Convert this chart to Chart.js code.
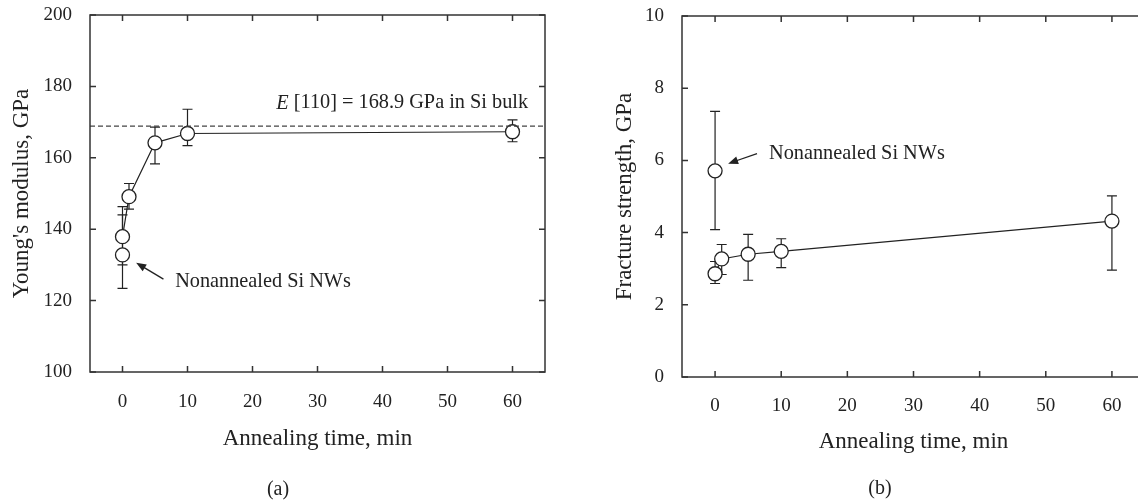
<!DOCTYPE html>
<html>
<head>
<meta charset="utf-8">
<script src="https://cdn.jsdelivr.net/npm/chart.js@4"></script>
<style>
html, body { margin: 0; padding: 0; background: #fff; overflow: hidden; width: 1138px; height: 503px; position: relative; }
canvas { position: absolute; top: 0; }
.lab { position: absolute; font: 20px "Liberation Serif", serif; color: #222; transform: translate(-50%, -50%); }
</style>
</head>
<body>
<canvas id="chartA" width="570" height="503" style="left:0"></canvas>
<canvas id="chartB" width="560" height="503" style="left:600px"></canvas>
<div class="lab" style="left:278px;top:488px">(a)</div>
<div class="lab" style="left:880px;top:487px">(b)</div>
<script>
// shared x axis (annealing time, min)
const timeTicks = [0, 10, 20, 30, 40, 50, 60];
const annealTime = [0, 1, 5, 10, 60];
const nonTime = [0];

// (a) Young's modulus, GPa
const youngTicks = [100, 120, 140, 160, 180, 200];
const youngMean = [137.9, 149.1, 164.2, 166.8, 167.3];
const youngLow = [130.0, 145.6, 158.3, 163.4, 164.5];
const youngHigh = [146.3, 152.8, 168.6, 173.6, 170.6];
const youngNonMean = [132.8];
const youngNonLow = [123.4];
const youngNonHigh = [144.0];
const bulkE = 168.9;

// (b) Fracture strength, GPa
const strengthTicks = [0, 2, 4, 6, 8, 10];
const strengthMean = [2.86, 3.27, 3.40, 3.48, 4.32];
const strengthLow = [2.59, 2.84, 2.68, 3.03, 2.96];
const strengthHigh = [3.20, 3.67, 3.95, 3.83, 5.02];
const strengthNonMean = [5.71];
const strengthNonLow = [4.08];
const strengthNonHigh = [7.36];

const SERIF = '"Liberation Serif", "Times New Roman", serif';
const INK = "#222";

// error bars, box with inward ticks, text notes
function decor(cfg) {
    return {
        id: "decor",
        beforeDatasetsDraw(chart) {
            const ctx = chart.ctx, xs = chart.scales.x, ys = chart.scales.y;
            ctx.save();
            ctx.strokeStyle = INK;
            ctx.lineWidth = 1.2;
            cfg.bars.forEach((b) => {
                b.x.forEach((t, i) => {
                    const px = xs.getPixelForValue(t);
                    const top = ys.getPixelForValue(b.hi[i]);
                    const bot = ys.getPixelForValue(b.lo[i]);
                    ctx.beginPath();
                    ctx.moveTo(px, top); ctx.lineTo(px, bot);
                    ctx.moveTo(px - 5, top); ctx.lineTo(px + 5, top);
                    ctx.moveTo(px - 5, bot); ctx.lineTo(px + 5, bot);
                    ctx.stroke();
                });
            });
            ctx.restore();
        },
        afterDraw(chart) {
            const ctx = chart.ctx, a = chart.chartArea;
            const xs = chart.scales.x, ys = chart.scales.y;
            ctx.save();
            ctx.strokeStyle = "#333";
            ctx.lineWidth = 1.5;
            ctx.strokeRect(a.left, a.top, a.right - a.left, a.bottom - a.top);
            ctx.beginPath();
            timeTicks.forEach((v) => {
                const px = xs.getPixelForValue(v);
                ctx.moveTo(px, a.bottom); ctx.lineTo(px, a.bottom - 6);
                ctx.moveTo(px, a.top); ctx.lineTo(px, a.top + 6);
            });
            cfg.yTicks.forEach((v) => {
                const py = ys.getPixelForValue(v);
                ctx.moveTo(a.left, py); ctx.lineTo(a.left + 6, py);
                ctx.moveTo(a.right, py); ctx.lineTo(a.right - 6, py);
            });
            ctx.stroke();

            ctx.fillStyle = INK;
            ctx.strokeStyle = INK;
            ctx.textBaseline = "middle";
            cfg.notes.forEach((n) => {
                const widths = n.parts.map((p) => {
                    ctx.font = `${p[0]} ${n.size}px ${SERIF}`;
                    return ctx.measureText(p[1]).width;
                });
                const total = widths.reduce((s, w) => s + w, 0);
                let px = xs.getPixelForValue(n.x);
                if (n.align === "right") px -= total;
                const py = ys.getPixelForValue(n.y);
                ctx.textAlign = "left";
                n.parts.forEach((p, i) => {
                    ctx.font = `${p[0]} ${n.size}px ${SERIF}`;
                    ctx.fillText(p[1], px, py);
                    px += widths[i];
                });
                if (n.arrow) {
                    const x1 = xs.getPixelForValue(n.arrow[0]), y1 = ys.getPixelForValue(n.arrow[1]);
                    const x2 = xs.getPixelForValue(n.arrow[2]), y2 = ys.getPixelForValue(n.arrow[3]);
                    const ang = Math.atan2(y2 - y1, x2 - x1);
                    ctx.lineWidth = 1.3;
                    ctx.beginPath();
                    ctx.moveTo(x1, y1);
                    ctx.lineTo(x2 - 8 * Math.cos(ang), y2 - 8 * Math.sin(ang));
                    ctx.stroke();
                    ctx.beginPath();
                    ctx.moveTo(x2, y2);
                    ctx.lineTo(x2 - 10 * Math.cos(ang) + 4 * Math.sin(ang), y2 - 10 * Math.sin(ang) - 4 * Math.cos(ang));
                    ctx.lineTo(x2 - 10 * Math.cos(ang) - 4 * Math.sin(ang), y2 - 10 * Math.sin(ang) + 4 * Math.cos(ang));
                    ctx.closePath();
                    ctx.fill();
                }
            });
            ctx.restore();
        },
    };
}

function makeChart(id, cfg) {
    const datasets = [];
    if (cfg.ref !== undefined) {
        datasets.push({
            data: [{ x: -5, y: cfg.ref }, { x: 65, y: cfg.ref }],
            borderColor: "#444",
            borderWidth: 1.3,
            borderDash: [5, 3],
            pointRadius: 0,
        });
    }
    datasets.push({
        data: annealTime.map((t, i) => ({ x: t, y: cfg.mean[i] })),
        borderColor: INK,
        borderWidth: 1.2,
        pointRadius: 7,
        pointBackgroundColor: "#fff",
        pointBorderColor: INK,
        pointBorderWidth: 1.3,
    });
    datasets.push({
        data: nonTime.map((t, i) => ({ x: t, y: cfg.nonMean[i] })),
        showLine: false,
        pointRadius: 7,
        pointBackgroundColor: "#fff",
        pointBorderColor: INK,
        pointBorderWidth: 1.3,
    });

    return new Chart(document.getElementById(id), {
        type: "line",
        data: { datasets: datasets },
        options: {
            responsive: false,
            animation: false,
            layout: { padding: { top: cfg.top, right: cfg.right, left: 0, bottom: 0 } },
            plugins: { legend: { display: false }, tooltip: { enabled: false } },
            scales: {
                x: {
                    type: "linear",
                    min: -5,
                    max: 65,
                    afterBuildTicks: (s) => { s.ticks = timeTicks.map((v) => ({ value: v })); },
                    afterFit: (s) => {
                        s.height = cfg.xh;
                        s.paddingLeft = 0; s.paddingRight = 0;
                    },
                    grid: { display: false, drawTicks: false },
                    border: { display: false },
                    ticks: { color: INK, font: { family: SERIF, size: 19 }, padding: cfg.xPad, maxRotation: 0, autoSkip: false },
                    title: {
                        display: true,
                        text: "Annealing time, min",
                        color: INK,
                        font: { family: SERIF, size: 23 },
                        padding: { top: 0, bottom: cfg.xTitlePad },
                    },
                },
                y: {
                    type: "linear",
                    min: cfg.yTicks[0],
                    max: cfg.yTicks[cfg.yTicks.length - 1],
                    afterBuildTicks: (s) => { s.ticks = cfg.yTicks.map((v) => ({ value: v })); },
                    afterFit: (s) => {
                        s.width = cfg.yw;
                        s.paddingTop = 0; s.paddingBottom = 0;
                    },
                    grid: { display: false, drawTicks: false },
                    border: { display: false },
                    ticks: { color: INK, font: { family: SERIF, size: 19 }, padding: 18, autoSkip: false },
                    title: {
                        display: true,
                        text: cfg.yTitle,
                        color: INK,
                        font: { family: SERIF, size: 23 },
                        padding: { top: cfg.yTitlePad, bottom: 0 },
                    },
                },
            },
        },
        plugins: [decor(cfg)],
    });
}

window.onload = function () {
    makeChart("chartA", {
        yTicks: youngTicks,
        yTitle: "Young's modulus, GPa",
        mean: youngMean,
        nonMean: youngNonMean,
        ref: bulkE,
        bars: [
            { x: annealTime, lo: youngLow, hi: youngHigh },
            { x: nonTime, lo: youngNonLow, hi: youngNonHigh },
        ],
        notes: [
            { parts: [["italic", "E"], ["normal", " [110] = 168.9 GPa in Si bulk"]], x: 62.4, y: 175.3, align: "right", size: 20.3 },
            { parts: [["normal", "Nonannealed Si NWs"]], x: 8.1, y: 125.3, align: "left", size: 20.3, arrow: [6.3, 126.0, 2.1, 130.6] },
        ],
        top: 15, right: 25, xh: 131, yw: 90,
        xPad: 19, xTitlePad: 50, yTitlePad: 8,
    });
    makeChart("chartB", {
        yTicks: strengthTicks,
        yTitle: "Fracture strength, GPa",
        mean: strengthMean,
        nonMean: strengthNonMean,
        bars: [
            { x: annealTime, lo: strengthLow, hi: strengthHigh },
            { x: nonTime, lo: strengthNonLow, hi: strengthNonHigh },
        ],
        notes: [
            { parts: [["normal", "Nonannealed Si NWs"]], x: 8.16, y: 6.2, align: "left", size: 20.3, arrow: [6.34, 6.19, 1.97, 5.91] },
        ],
        top: 16, right: 15, xh: 126, yw: 82,
        xPad: 18, xTitlePad: 47, yTitlePad: 11,
    });
};
</script>
</body>
</html>
